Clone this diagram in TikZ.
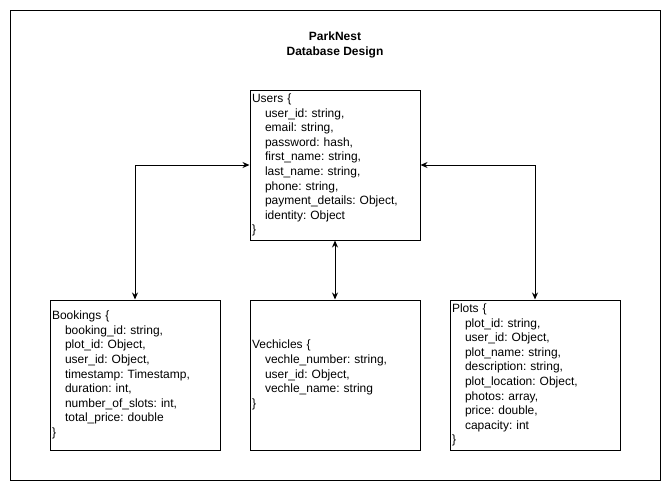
\documentclass[tikz,border=0pt]{standalone}
\usepackage{fontspec}
\setmainfont{Liberation Sans}
\usetikzlibrary{arrows.meta}
\frenchspacing
\begin{document}
\begin{tikzpicture}[x=1pt,y=-1pt,
  entity/.style={draw,line width=1pt,rectangle,align=left,text width=166pt,inner sep=2pt,
    minimum height=150pt,font=\frenchspacing\fontsize{12}{14.6}\selectfont},
  link/.style={line width=1pt,{Stealth[length=7pt,width=6pt]}-{Stealth[length=7pt,width=6pt]}}]
\useasboundingbox (0,0) rectangle (671,491);
\draw[line width=1pt] (10.5,10.5) rectangle (660,480);
\newcommand{\ind}{\hspace*{13pt}}
\node[font=\bfseries\fontsize{12}{15}\selectfont,align=center] (title) at (335,45) {ParkNest\\Database Design};
\node[entity] (users) at (335,165) {Users \{\\
\ind user\_id: string,\\
\ind email: string,\\
\ind password: hash,\\
\ind first\_name: string,\\
\ind last\_name: string,\\
\ind phone: string,\\
\ind payment\_details: Object,\\
\ind identity: Object\\
\}};
\node[entity] (bookings) at (135,375) {Bookings \{\\
\ind booking\_id: string,\\
\ind plot\_id: Object,\\
\ind user\_id: Object,\\
\ind timestamp: Timestamp,\\
\ind duration: int,\\
\ind number\_of\_slots: int,\\
\ind total\_price: double\\
\}};
\node[entity] (vehicles) at (335,375) {Vechicles \{\\
\ind vechle\_number: string,\\
\ind user\_id: Object,\\
\ind vechle\_name: string\\
\}};
\node[entity] (plots) at (535,375) {Plots \{\\
\ind plot\_id: string,\\
\ind user\_id: Object,\\
\ind plot\_name: string,\\
\ind description: string,\\
\ind plot\_location: Object,\\
\ind photos: array,\\
\ind price: double,\\
\ind capacity: int\\
\}};
\draw[link] (bookings.north) |- (users.west);
\draw[link] (users.south) -- (vehicles.north);
\draw[link] (users.east) -| (plots.north);
\end{tikzpicture}
\end{document}
